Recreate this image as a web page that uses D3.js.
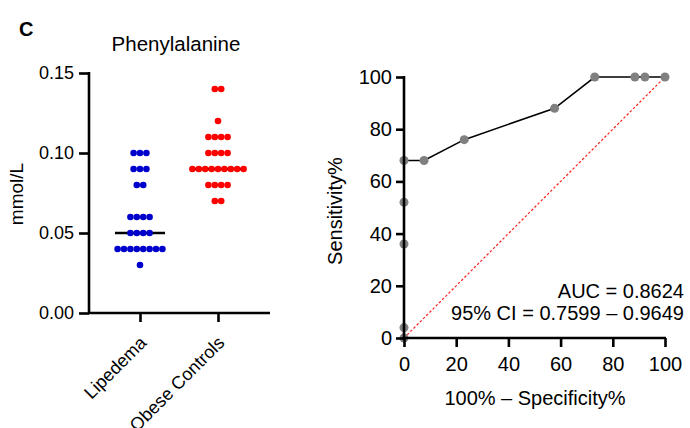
<!DOCTYPE html>
<meta charset="utf-8">
<html>
  <head>
    <style>
      body { margin: 0; background: #fff; }
      text { font-family: "Liberation Sans", Arial, sans-serif; fill: #000; }
      .axis path, .axis line { stroke: #000; stroke-width: 2.6px; }
      .axis.left text { font-size: 18px; }
      .axis.right text { font-size: 20px; }
    </style>
    <script src="https://d3js.org/d3.v7.min.js"></script>
  </head>
  <body>
    <div id="chart"></div>
    <script type="text/javascript">
      // dot plot data (mmol/L)
      var groups = ["Lipedema", "Obese Controls"],
          groupColors = ["#0000cc", "#ff0000"],
          lipedema = [0.03, 0.04, 0.04, 0.04, 0.04, 0.04, 0.04, 0.04, 0.04,
                      0.05, 0.05, 0.05, 0.05, 0.06, 0.06, 0.06, 0.06,
                      0.08, 0.08, 0.09, 0.09, 0.09, 0.10, 0.10, 0.10],
          obese = [0.07, 0.07, 0.08, 0.08, 0.08, 0.08,
                   0.09, 0.09, 0.09, 0.09, 0.09, 0.09, 0.09, 0.09, 0.09,
                   0.10, 0.10, 0.10, 0.10, 0.11, 0.11, 0.11, 0.11, 0.12, 0.14, 0.14],
          yTicks = [0, 0.05, 0.10, 0.15];

      // ROC curve
      var rocX = [0, 0, 0, 0, 0, 7.69, 23.08, 57.69, 73.08, 88.46, 92.31, 100],
          rocY = [0, 4, 36, 52, 68, 68, 76, 88, 100, 100, 100, 100],
          rocTicks = [0, 20, 40, 60, 80, 100],
          aucLines = ["AUC = 0.8624", "95% CI = 0.7599 \u2013 0.9649"];

      var svg = d3.select("#chart").append("svg")
          .attr("width", 690)
          .attr("height", 428);

      // ---------- left panel ----------
      svg.append("text").attr("x", 19).attr("y", 36)
          .style("font-size", "20px").style("font-weight", "bold").text("C");
      svg.append("text").attr("x", 176).attr("y", 51)
          .style("font-size", "20.5px").style("text-anchor", "middle").text("Phenylalanine");

      var y1 = d3.scaleLinear().domain([0, 0.15]).range([313, 73]);
      var x1 = d3.scaleOrdinal().domain(groups).range([140, 218]);

      var gy1 = svg.append("g").attr("class", "axis left")
          .attr("transform", "translate(89,0)")
          .call(d3.axisLeft(y1).tickValues(yTicks).tickFormat(d3.format(".2f")).tickSize(10).tickPadding(5));
      gy1.select(".domain").attr("d", "M0," + (y1(0.15) - 1) + "V" + (y1(0) + 1));

      var gx1 = svg.append("g").attr("class", "axis left")
          .attr("transform", "translate(0,313)")
          .call(d3.axisBottom(x1).tickSize(9).tickPadding(5));
      gx1.select(".domain").attr("d", "M88,0H270");
      gx1.selectAll(".tick text")
          .attr("x", 0).attr("y", 0)
          .attr("dy", 0)
          .style("text-anchor", "end")
          .attr("transform", "translate(7,31) rotate(-45)");

      svg.append("text")
          .attr("transform", "translate(23,194) rotate(-90)")
          .style("font-size", "19px").style("text-anchor", "middle").text("mmol/L");

      var spacing = 6.4;
      [lipedema, obese].forEach(function (vals, gi) {
        var counts = d3.rollup(vals, function (v) { return v.length; }, function (d) { return d; });
        var pts = [];
        counts.forEach(function (n, v) {
          for (var i = 0; i < n; i++) pts.push({ v: v, off: (i - (n - 1) / 2) * spacing });
        });
        var med = d3.median(vals);
        svg.append("line")
            .attr("x1", x1(groups[gi]) - 25).attr("x2", x1(groups[gi]) + 25)
            .attr("y1", y1(med)).attr("y2", y1(med))
            .attr("stroke", "#000").attr("stroke-width", 2.6);
        svg.selectAll(".dot" + gi).data(pts).enter().append("circle")
            .attr("cx", function (d) { return x1(groups[gi]) + d.off; })
            .attr("cy", function (d) { return y1(d.v); })
            .attr("r", 3.3)
            .attr("fill", groupColors[gi]);
      });

      // ---------- right panel ----------
      var x2 = d3.scaleLinear().domain([0, 100]).range([404, 665]);
      var y2 = d3.scaleLinear().domain([0, 100]).range([338, 77]);

      svg.append("line")
          .attr("x1", x2(0)).attr("y1", y2(0)).attr("x2", x2(100)).attr("y2", y2(100))
          .attr("stroke", "#ff2020").attr("stroke-width", 1.2).attr("stroke-dasharray", "2.5,2");

      var rocPts = rocX.map(function (d, i) { return [d, rocY[i]]; });
      svg.append("path").datum(rocPts.slice(4))
          .attr("fill", "none").attr("stroke", "#000").attr("stroke-width", 1.6)
          .attr("d", d3.line().x(function (d) { return x2(d[0]); }).y(function (d) { return y2(d[1]); }));

      svg.selectAll(".roc").data(rocPts).enter().append("circle")
          .attr("cx", function (d) { return x2(d[0]); })
          .attr("cy", function (d) { return y2(d[1]); })
          .attr("r", 4.5)
          .attr("fill", "#808080");

      var gy2 = svg.append("g").attr("class", "axis right")
          .attr("transform", "translate(404,0)")
          .call(d3.axisLeft(y2).tickValues(rocTicks).tickSize(8).tickPadding(4));
      gy2.select(".domain").attr("d", "M0," + (y2(100) - 1) + "V" + (y2(0) + 1));

      var gx2 = svg.append("g").attr("class", "axis right")
          .attr("transform", "translate(0,338)")
          .call(d3.axisBottom(x2).tickValues(rocTicks).tickSize(9).tickPadding(10));
      gx2.select(".domain").attr("d", "M403,0H666");

      svg.append("text")
          .attr("transform", "translate(341.5,211) rotate(-90)")
          .style("font-size", "20px").style("text-anchor", "middle").text("Sensitivity%");
      svg.append("text").attr("x", 535).attr("y", 404.5)
          .style("font-size", "20px").style("text-anchor", "middle").text("100% \u2013 Specificity%");

      svg.selectAll(".auc").data(aucLines).enter().append("text")
          .attr("x", 684)
          .attr("y", function (d, i) { return 298 + i * 22; })
          .style("font-size", "20px").style("text-anchor", "end")
          .text(function (d) { return d; });
    </script>
  </body>
</html>
